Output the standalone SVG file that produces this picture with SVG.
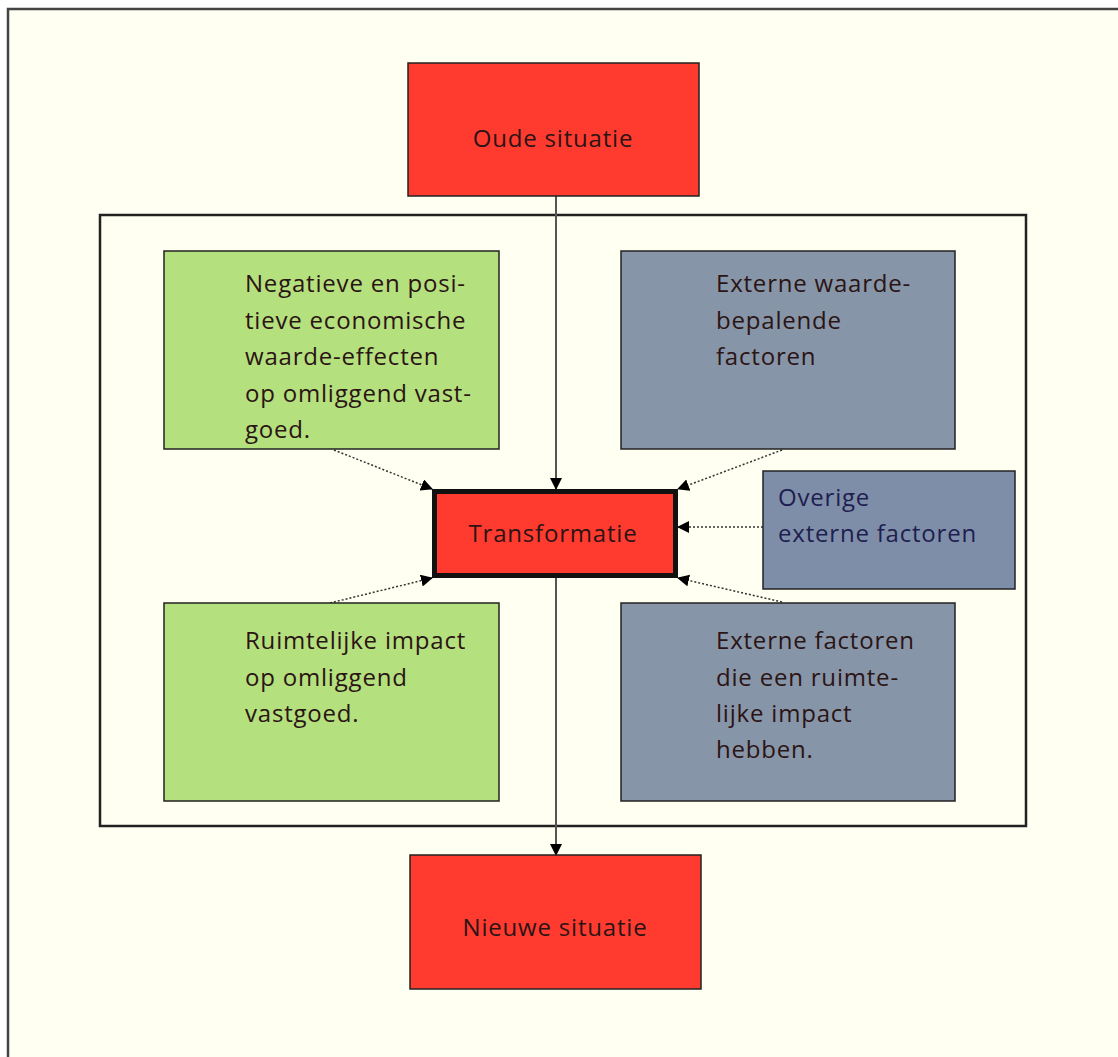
<svg xmlns="http://www.w3.org/2000/svg" width="1118" height="1057" viewBox="0 0 1118 1057">
<style>
.t{font-family:"Open Sans","Liberation Sans",sans-serif;font-size:24px;letter-spacing:0.8px;fill:#2b1414}
.tc{text-anchor:middle}
.red{fill:#ff3b30;stroke:#222;stroke-width:1.5}
.green{fill:#b5e07e;stroke:#222;stroke-width:1.5}
.grey{fill:#8795a8;stroke:#222;stroke-width:1.5}
.solid{stroke:#555;stroke-width:2;fill:none}
.dot{stroke:#333;stroke-width:1.5;stroke-dasharray:2 2;fill:none}
</style>
<defs>
<marker id="ah" markerWidth="12" markerHeight="12" refX="11" refY="6" orient="auto" markerUnits="userSpaceOnUse" viewBox="0 0 12 12">
<path d="M0,0 L12,6 L0,12 z" fill="#000"/>
</marker>
</defs>
<rect x="0" y="0" width="1118" height="1057" fill="#ffffff"/>
<rect x="8" y="9" width="1120" height="1060" fill="#fffff2" stroke="#444" stroke-width="2.5"/>
<rect id="frame" x="100" y="215" width="926" height="611" fill="none" stroke="#222" stroke-width="2.5"/>
<g id="connectors">
<line class="solid" x1="556" y1="196" x2="556" y2="489" marker-end="url(#ah)"/>
<line class="solid" x1="556" y1="578" x2="556" y2="855" marker-end="url(#ah)"/>
<line class="dot" x1="334" y1="450" x2="432" y2="489" marker-end="url(#ah)"/>
<line class="dot" x1="330" y1="603" x2="432" y2="578" marker-end="url(#ah)"/>
<line class="dot" x1="782" y1="450" x2="678" y2="489" marker-end="url(#ah)"/>
<line class="dot" x1="782" y1="602" x2="678" y2="578" marker-end="url(#ah)"/>
<line class="dot" x1="763" y1="527" x2="678" y2="527" marker-end="url(#ah)"/>
</g>
<g id="oude">
<rect class="red" x="408" y="63" width="291" height="133"/>
<text class="t tc" x="553" y="147">Oude situatie</text>
</g>
<g id="negatief">
<rect class="green" x="164" y="251" width="335" height="198"/>
<text class="t" x="245" y="292">Negatieve en posi-</text>
<text class="t" x="245" y="329">tieve economische</text>
<text class="t" x="245" y="365">waarde-effecten</text>
<text class="t" x="245" y="402">op omliggend vast-</text>
<text class="t" x="245" y="438">goed.</text>
</g>
<g id="extern-waarde">
<rect class="grey" x="621" y="251" width="334" height="198"/>
<text class="t" x="716" y="292">Externe waarde-</text>
<text class="t" x="716" y="329">bepalende</text>
<text class="t" x="716" y="365">factoren</text>
</g>
<g id="transformatie">
<rect x="434.5" y="491.5" width="241" height="84" fill="#ff3b30" stroke="#111" stroke-width="5"/>
<text class="t tc" x="553" y="542">Transformatie</text>
</g>
<g id="overige">
<rect x="763" y="471" width="252" height="118" fill="#7f8ea8" stroke="#222" stroke-width="1.5"/>
<text class="t" x="778" y="506" style="fill:#1e1e50">Overige</text>
<text class="t" x="778" y="542" style="fill:#1e1e50">externe factoren</text>
</g>
<g id="ruimtelijk">
<rect class="green" x="164" y="603" width="335" height="198"/>
<text class="t" x="245" y="649">Ruimtelijke impact</text>
<text class="t" x="245" y="686">op omliggend</text>
<text class="t" x="245" y="722">vastgoed.</text>
</g>
<g id="extern-ruimte">
<rect class="grey" x="621" y="603" width="334" height="198"/>
<text class="t" x="716" y="649">Externe factoren</text>
<text class="t" x="716" y="686">die een ruimte-</text>
<text class="t" x="716" y="722">lijke impact</text>
<text class="t" x="716" y="758">hebben.</text>
</g>
<g id="nieuwe">
<rect class="red" x="410" y="855" width="291" height="134"/>
<text class="t tc" x="555" y="936">Nieuwe situatie</text>
</g>
</svg>
